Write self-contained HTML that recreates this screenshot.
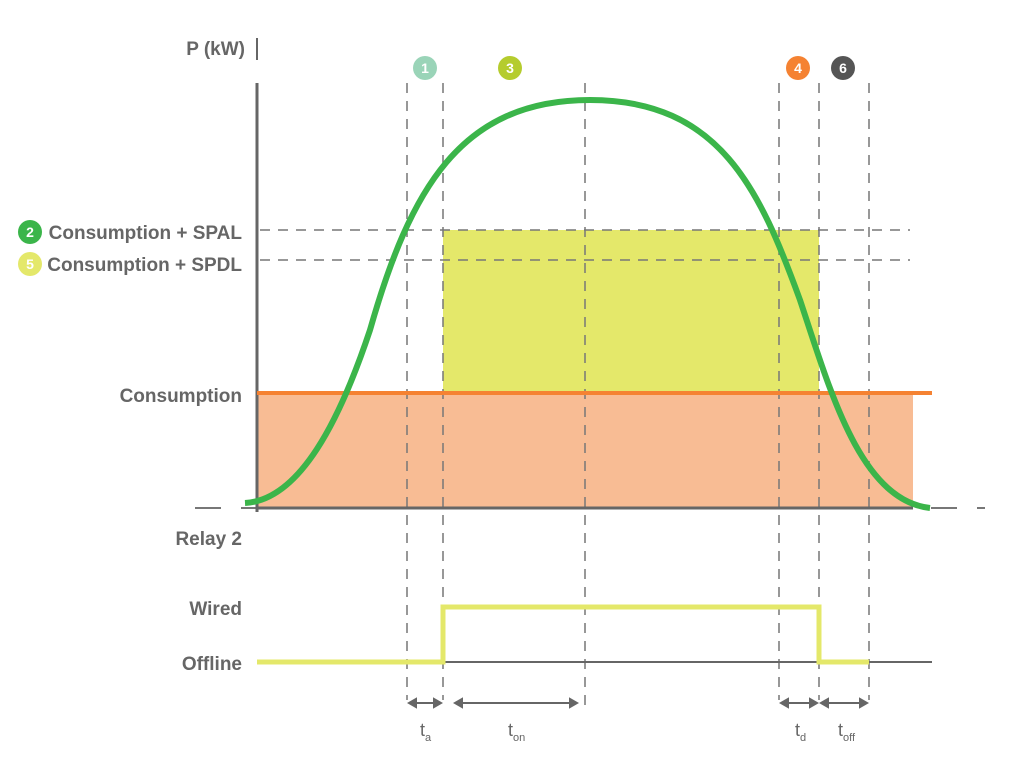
<!DOCTYPE html>
<html><head><style>body{margin:0;background:#fff}svg{display:block}text{font-family:"Liberation Sans",sans-serif;font-weight:bold;fill:#666}</style></head><body>
<svg width="1024" height="760" viewBox="0 0 1024 760">
<rect x="257" y="393" width="656" height="115" fill="#f8bc94"/>
<rect x="443" y="230" width="376" height="163" fill="#e4e86a"/>
<g stroke="#777" stroke-width="1.5" stroke-dasharray="10,8" fill="none">
<line x1="260" y1="230" x2="910" y2="230"/><line x1="260" y1="260" x2="910" y2="260"/>
<line x1="407" y1="83" x2="407" y2="700"/><line x1="443" y1="83" x2="443" y2="700"/>
<line x1="585" y1="83" x2="585" y2="710"/><line x1="779" y1="83" x2="779" y2="700"/>
<line x1="819" y1="83" x2="819" y2="700"/><line x1="869" y1="83" x2="869" y2="700"/>
<line x1="195" y1="508" x2="985" y2="508" stroke-width="2" stroke-dasharray="26,20"/>
</g>
<line x1="257" y1="83" x2="257" y2="512" stroke="#666" stroke-width="3"/>
<line x1="257" y1="38" x2="257" y2="60" stroke="#666" stroke-width="2"/>
<line x1="257" y1="508" x2="913" y2="508" stroke="#666" stroke-width="3"/>
<line x1="257" y1="393" x2="932" y2="393" stroke="#f58232" stroke-width="4"/>
<path d="M245,503 C300,500 340,420 370,330 C410,190 460,100 590,100 C720,100 760,190 800,300 C830,390 860,500 930,508" fill="none" stroke="#3bb54a" stroke-width="6"/>
<line x1="257" y1="662" x2="932" y2="662" stroke="#666" stroke-width="2"/>
<path d="M257,662 H443 V607 H819 V662 H869" fill="none" stroke="#e4e86a" stroke-width="5"/>
<g stroke="#666" stroke-width="2" fill="#666">
<line x1="410" y1="703" x2="440" y2="703"/><line x1="456" y1="703" x2="576" y2="703"/>
<line x1="782" y1="703" x2="816" y2="703"/><line x1="822" y1="703" x2="866" y2="703"/>
<path d="M409,703 l7,-4 v8z M441,703 l-7,-4 v8z M455,703 l7,-4 v8z M577,703 l-7,-4 v8z M781,703 l7,-4 v8z M817,703 l-7,-4 v8z M821,703 l7,-4 v8z M867,703 l-7,-4 v8z"/>
</g>
<text x="245" y="55" font-size="19" text-anchor="end">P (kW)</text>
<text x="242" y="239" font-size="19" text-anchor="end">Consumption + SPAL</text>
<text x="242" y="271" font-size="19" text-anchor="end">Consumption + SPDL</text>
<text x="242" y="402" font-size="19" text-anchor="end">Consumption</text>
<text x="242" y="545" font-size="19" text-anchor="end">Relay 2</text>
<text x="242" y="615" font-size="19" text-anchor="end">Wired</text>
<text x="242" y="670" font-size="19" text-anchor="end">Offline</text>
<g font-size="14" text-anchor="middle">
<circle cx="30" cy="232" r="12" fill="#3bb54a"/><text x="30" y="237" style="fill:#fff">2</text>
<circle cx="30" cy="264" r="12" fill="#e4e86a"/><text x="30" y="269" style="fill:#fff">5</text>
<circle cx="425" cy="68" r="12" fill="#9ad4b8"/><text x="425" y="73" style="fill:#fff">1</text>
<circle cx="510" cy="68" r="12" fill="#b5cc2e"/><text x="510" y="73" style="fill:#fff">3</text>
<circle cx="798" cy="68" r="12" fill="#f58232"/><text x="798" y="73" style="fill:#fff">4</text>
<circle cx="843" cy="68" r="12" fill="#555"/><text x="843" y="73" style="fill:#fff">6</text>
</g>
<g style="font-weight:normal" font-size="18">
<text x="420" y="736" style="font-weight:normal">t<tspan font-size="11" dy="5">a</tspan></text>
<text x="508" y="736" style="font-weight:normal">t<tspan font-size="11" dy="5">on</tspan></text>
<text x="795" y="736" style="font-weight:normal">t<tspan font-size="11" dy="5">d</tspan></text>
<text x="838" y="736" style="font-weight:normal">t<tspan font-size="11" dy="5">off</tspan></text>
</g>
</svg>
</body></html>
